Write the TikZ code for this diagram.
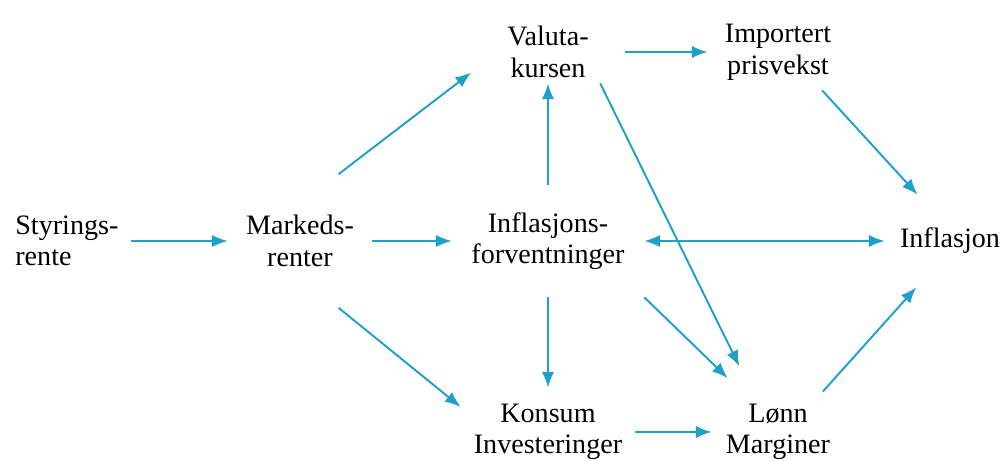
\documentclass[tikz,border=0pt]{standalone}
\usepackage{fontspec}
\setmainfont{Liberation Serif}
\usepackage{tikz}
\usetikzlibrary{arrows.meta}
\definecolor{flowblue}{RGB}{30,160,200}
\tikzstyle{factor}=[rectangle, inner sep=0pt, align=center, font=\fontsize{16}{18}\selectfont]
\tikzstyle{flow}=[color=flowblue, line width=1.1pt, >={Latex[length=9pt,width=7pt]}, ->]
\newcommand{\factor}{\node[factor]}

\begin{document}
\begin{tikzpicture}
            \useasboundingbox (0,0) rectangle (20.08,9.22);
            \factor (s) at (0.30,4.40) [anchor=west, align=left] {Styrings-\\rente};
            \factor (m) at (6.00,4.40) [minimum width=2.88cm, minimum height=2.66cm] {Markeds-\\renter};
            \factor (f) at (10.96,4.40) [minimum width=3.84cm, minimum height=2.24cm] {Inflasjons-\\forventninger};
            \factor (v) at (10.96,8.18) [minimum width=3.06cm, minimum height=1.24cm] {Valuta-\\kursen};
            \factor (p) at (15.56,8.18) [minimum width=2.80cm, minimum height=1.52cm] {Importert\\prisvekst};
            \factor (i) at (19.00,4.40) [minimum width=2.60cm, minimum height=1.84cm] {Inflasjon};
            \factor (k) at (10.96,0.58) [minimum width=3.48cm, minimum height=1.76cm] {Konsum\\Investeringer};
            \factor (l) at (15.56,0.58) [minimum width=2.64cm, minimum height=1.60cm] {Lønn\\Marginer};
            \path[flow]
            (s.east) edge[shorten <=7pt] (m.west)
            (m) edge (f)
            (m.60) edge (v.195)
            (m.-60) edge (k.164)
            (f) edge (v)
            (f) edge (k)
            (f) edge[<->] (i)
            (f.south east) edge[shorten >=11pt] (l.132)
            (v) edge (p)
            (v.-31) edge[shorten >=16pt] (l.123)
            (p.-41) edge (i.125)
            (k) edge (l)
            (l.42) edge (i.234)
            ;
        \end{tikzpicture}
\end{document}
